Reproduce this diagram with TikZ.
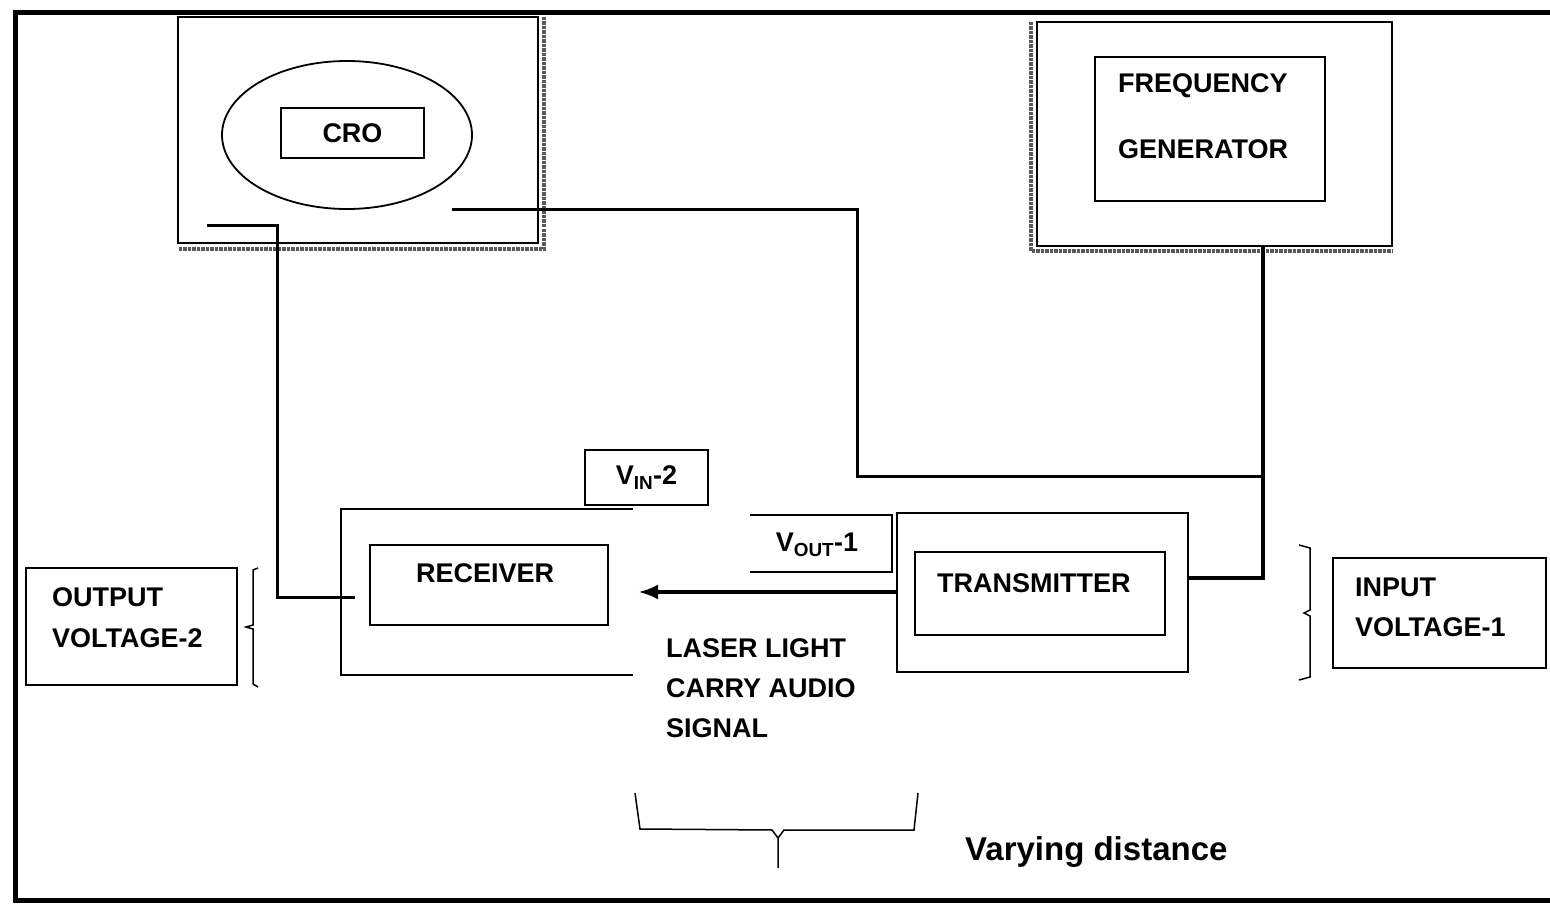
\documentclass[tikz,border=0pt]{standalone}
\usepackage{fontspec}
\setmainfont{Liberation Sans}
\usetikzlibrary{arrows.meta,shapes.geometric}
\newcommand{\lbfont}{\fontsize{27}{40}\selectfont\bfseries}
\tikzset{
  blk/.style={draw, line width=2pt, inner sep=0pt},
  lbl/.style={font=\lbfont, inner sep=0pt, anchor=west},
  wire/.style={line width=3pt},
  scan/.style={black!65, densely dotted, line width=3.5pt},
}
\begin{document}
\begin{tikzpicture}[x=1pt,y=-1pt]
    \useasboundingbox (0,0) rectangle (1550,904);
    % frame
    \draw[line width=5pt] (15,13) rectangle (1556,900);
    % CRO
    \node[blk, minimum width=360pt, minimum height=226pt] (cro) at (358,130) {};
    \draw[scan] (544,17) -- (544,249) -- (178,249);
    \node[blk, ellipse, line width=1.8pt, minimum width=250pt, minimum height=148pt] (scope) at (347,135) {};
    \node[blk, font=\lbfont, minimum width=143pt, minimum height=50pt] (crobox) at (352.5,133) {CRO};
    % frequency generator
    \node[blk, minimum width=355pt, minimum height=224pt] (gen) at (1214.5,134) {};
    \draw[scan] (1031,22) -- (1031,251) -- (1392,251);
    \node[blk, minimum width=230pt, minimum height=144pt] (genbox) at (1210,129) {};
    \node[lbl] (freq) at (1118,86) {FREQUENCY};
    \node[lbl] (gener) at (1118,149) {GENERATOR};
    % transmitter
    \node[blk, minimum width=291pt, minimum height=159pt] (tx) at (1042.5,592.5) {};
    \node[blk, minimum width=250pt, minimum height=83pt] (txbox) at (1040,593.5) {};
    \node[lbl] (txt) at (937,583) {TRANSMITTER};
    % receiver
    \coordinate (rxa) at (633,509);
    \coordinate (rxb) at (633,675);
    \draw[line width=1.8pt] (rxa) -- (341,509) -- (341,675) -- (rxb);
    \node[blk, minimum width=238pt, minimum height=80pt] (rxbox) at (489,585) {};
    \node[lbl] (rxt) at (416,573) {RECEIVER};
    % voltages
    \node[blk, font=\lbfont, minimum width=123pt, minimum height=55pt] (vin) at (646.5,477.5) {V\textsubscript{IN}-2};
    \draw[line width=1.8pt] (750,515) -- (892,515) -- (892,572) -- (750,572);
    \node[font=\lbfont, inner sep=0pt] (vout) at (817,545) {V\textsubscript{OUT}-1};
    \node[blk, minimum width=211pt, minimum height=117pt] (outbox) at (131.5,626.5) {};
    \node[lbl] (out1) at (52,597) {OUTPUT};
    \node[lbl] (out2) at (52,638) {VOLTAGE-2};
    \node[blk, minimum width=213pt, minimum height=110pt] (inbox) at (1439.5,613) {};
    \node[lbl] (in1) at (1355,587) {INPUT};
    \node[lbl] (in2) at (1355,627) {VOLTAGE-1};
    % braces
    \draw[line width=1.5pt] (258,568) -- (253,570) -- (253,625) -- (246,627) -- (253,629) -- (253,684) -- (258,687);
    \draw[line width=1.5pt] (1299,545) -- (1310,548) -- (1310,610) -- (1304,613) -- (1310,616) -- (1310,677) -- (1299,680);
    \draw[line width=1.5pt] (635,793) -- (640,829) -- (772,830) -- (778,838) -- (778,868);
    \draw[line width=1.5pt] (778,838) -- (784,830) -- (914,830) -- (918,793);
    % laser
    \draw[line width=4pt, -{Latex[length=20pt,width=15pt]}] (tx.west |- 0,592) -- (638,592);
    \node[lbl] (las1) at (666,648) {LASER LIGHT};
    \node[lbl] (las2) at (666,688) {CARRY AUDIO};
    \node[lbl] (las3) at (666,728) {SIGNAL};
    \node[lbl, font=\fontsize{33}{40}\selectfont\bfseries] (dist) at (965,852) {Varying distance};
    % wires
    \coordinate (croa) at (207,226);
    \coordinate (crob) at (452,210);
    \coordinate (rxin) at (355,597);
    \coordinate (genout) at (1263,246);
    \draw[wire] (croa) -- (277,226) |- (rxin);
    \draw[wire] (crob) -- (857,210) -- (857,476) -- (1263,476);
    \draw[line width=3.5pt] (genout) -- (1263,578) -- (tx.east |- 0,578);
\end{tikzpicture}
\end{document}
